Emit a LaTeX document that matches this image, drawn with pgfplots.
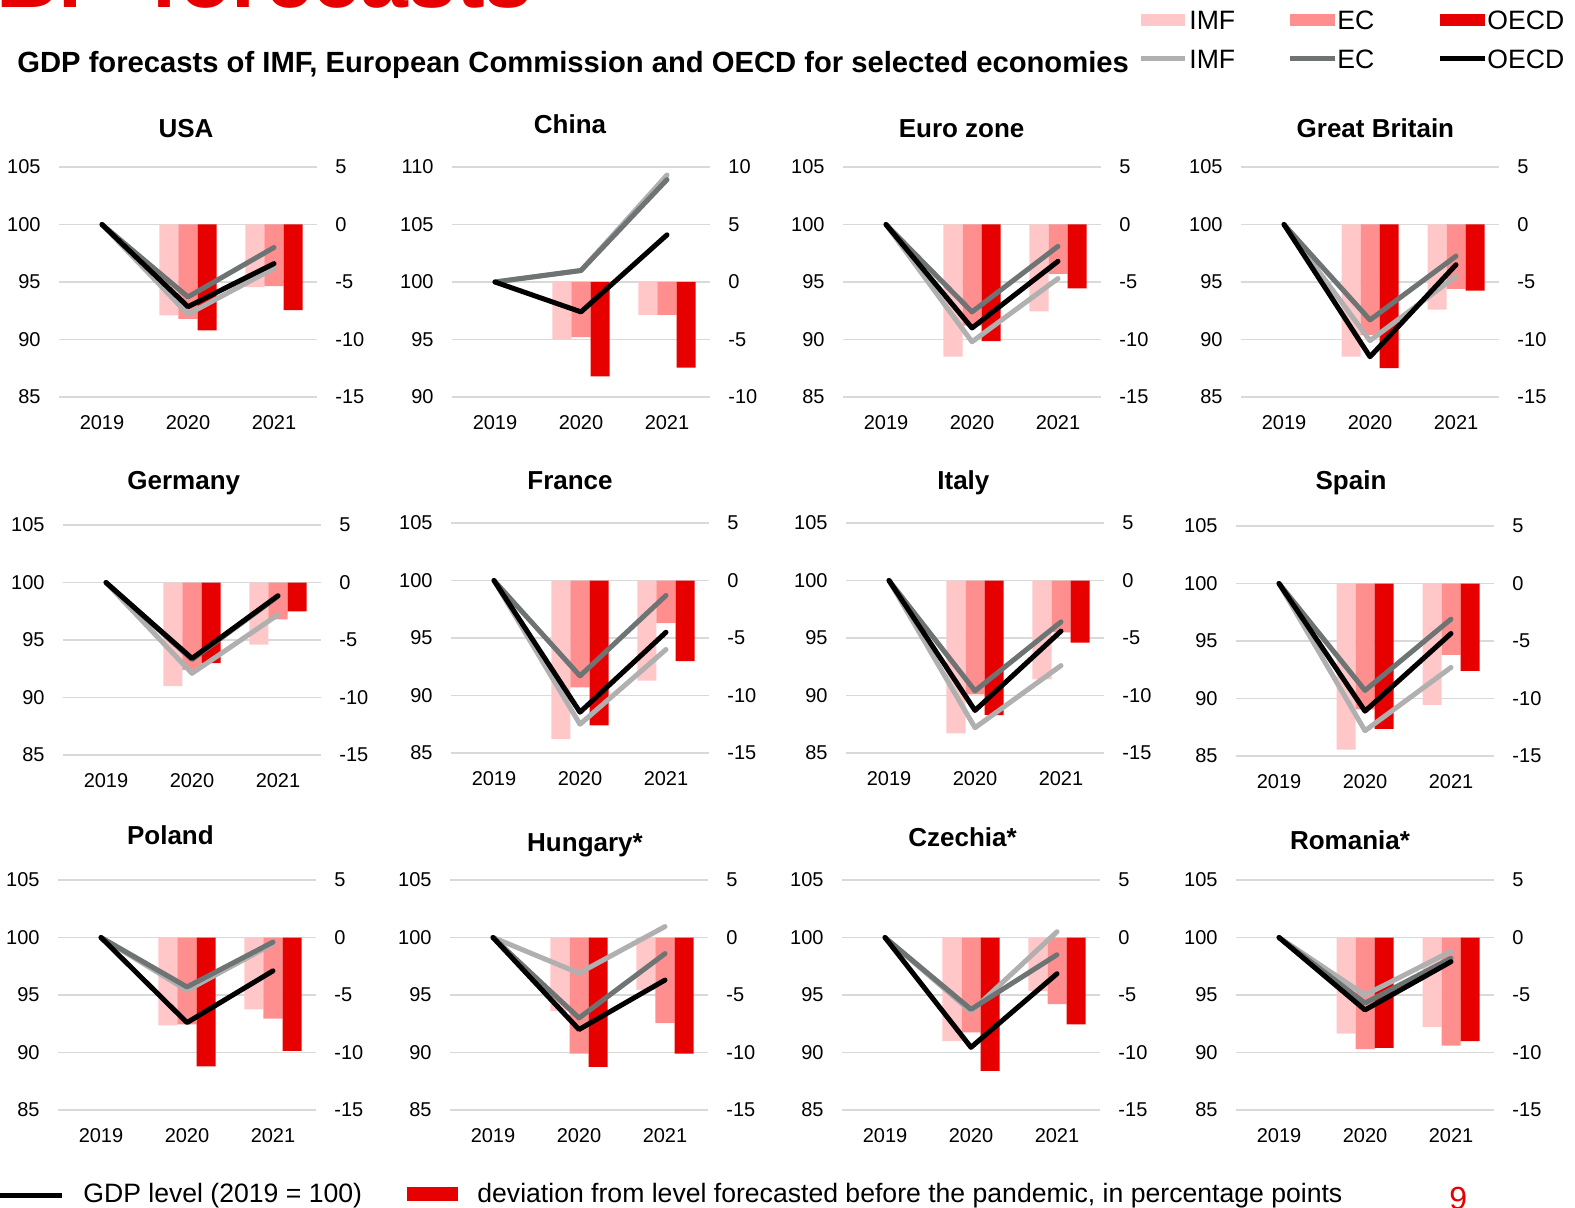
\documentclass[border=0pt]{standalone}
\usepackage{fontspec}
\setmainfont{Liberation Sans}
\usepackage{pgfplots}
\usepackage{pgfplotstable}
\pgfplotsset{compat=1.18}

\definecolor{imfbar}{HTML}{FFC7C7}
\definecolor{ecbar}{HTML}{FF8F8F}
\definecolor{oecdbar}{HTML}{E60000}
\definecolor{imfline}{HTML}{B0B0B0}
\definecolor{ecline}{HTML}{6E7474}
\definecolor{gridc}{HTML}{D9D9D9}
\definecolor{titlered}{HTML}{E60000}

% x: 0=2019, 1=2020, 2=2021 ; b = deviation bars (right axis), l = GDP level lines (left axis)
\pgfplotstableread{
x imfb ecb oecdb imfl ecl oecdl
0 0 0 0 100 100 100
1 -7.9 -8.2 -9.2 92.2 93.7 92.85
2 -5.45 -5.35 -7.45 96.2 98.0 96.6
}\usa
\pgfplotstableread{
x imfb ecb oecdb imfl ecl oecdl
0 0 0 0 100 100 100
1 -5.0 -4.8 -8.2 101.0 101.0 97.4
2 -2.85 -2.85 -7.45 109.3 108.9 104.1
}\china
\pgfplotstableread{
x imfb ecb oecdb imfl ecl oecdl
0 0 0 0 100 100 100
1 -11.5 -8.8 -10.15 89.8 92.4 91.0
2 -7.55 -4.3 -5.55 95.3 98.1 96.8
}\euro
\pgfplotstableread{
x imfb ecb oecdb imfl ecl oecdl
0 0 0 0 100 100 100
1 -11.5 -9.6 -12.5 89.9 91.7 88.5
2 -7.4 -5.6 -5.75 95.5 97.25 96.5
}\gb
\pgfplotstableread{
x imfb ecb oecdb imfl ecl oecdl
0 0 0 0 100 100 100
1 -9.0 -7.6 -7.0 92.1 93.3 93.4
2 -5.4 -3.2 -2.5 97.2 98.8 98.85
}\germany
\pgfplotstableread{
x imfb ecb oecdb imfl ecl oecdl
0 0 0 0 100 100 100
1 -13.8 -9.3 -12.6 87.5 91.7 88.55
2 -8.7 -3.7 -7.0 94.0 98.7 95.5
}\france
\pgfplotstableread{
x imfb ecb oecdb imfl ecl oecdl
0 0 0 0 100 100 100
1 -13.3 -9.9 -11.7 87.2 90.4 88.7
2 -8.6 -4.5 -5.4 92.6 96.4 95.6
}\italy
\pgfplotstableread{
x imfb ecb oecdb imfl ecl oecdl
0 0 0 0 100 100 100
1 -14.45 -10.95 -12.65 87.2 90.7 88.9
2 -10.55 -6.2 -7.6 92.7 96.9 95.65
}\spain
\pgfplotstableread{
x imfb ecb oecdb imfl ecl oecdl
0 0 0 0 100 100 100
1 -7.65 -7.55 -11.2 95.4 95.7 92.6
2 -6.25 -7.05 -9.85 99.45 99.6 97.1
}\poland
\pgfplotstableread{
x imfb ecb oecdb imfl ecl oecdl
0 0 0 0 100 100 100
1 -6.4 -10.1 -11.25 96.9 93.0 92.0
2 -4.55 -7.45 -10.1 100.95 98.6 96.3
}\hungary
\pgfplotstableread{
x imfb ecb oecdb imfl ecl oecdl
0 0 0 0 100 100 100
1 -9.0 -8.25 -11.6 93.55 93.75 90.45
2 -4.65 -5.8 -7.55 100.5 98.5 96.85
}\czechia
\pgfplotstableread{
x imfb ecb oecdb imfl ecl oecdl
0 0 0 0 100 100 100
1 -8.35 -9.7 -9.6 95.0 94.3 93.7
2 -7.8 -9.4 -9.0 98.8 98.2 97.9
}\romania

\pgfplotsset{
  panel/.style={
    scale only axis, width=129pt, height=115pt,
    anchor=north west,
    xmin=-0.5, xmax=2.5, xtick={0,1,2},
    ytick distance=5,
    axis line style={draw=none},
    major tick length=0pt,
    /pgf/number format/assume math mode=true,
    tick label style={font=\fontsize{10}{12}\selectfont},
    xticklabel style={yshift=-5.7pt},
    clip=false,
  },
  lineplot/.style={line width=2.5pt, line cap=round, line join=round},
}

\newcommand\panel[6]{%
  \begin{axis}[panel, at={(#1,#2)}, ymin=#4, ymax=#5,
    yticklabel pos=right, yticklabel style={xshift=5.7pt},
    ymajorgrids, grid style={gridc, line width=0.8pt},
    xticklabels={2019,2020,2021}]
    \addplot[ybar, bar width=0.221, bar shift=-0.221, fill=imfbar, draw=none,
      skip coords between index={0}{1}] table[x=x,y=imfb] {#3};
    \addplot[ybar, bar width=0.221, bar shift=0, fill=ecbar, draw=none,
      skip coords between index={0}{1}] table[x=x,y=ecb] {#3};
    \addplot[ybar, bar width=0.221, bar shift=0.221, fill=oecdbar, draw=none,
      skip coords between index={0}{1}] table[x=x,y=oecdb] {#3};
  \end{axis}
  \begin{axis}[panel, at={(#1,#2)}, ymin=#6, ymax=#6+20,
    yticklabel pos=left, yticklabel style={xshift=-5.7pt},
    xticklabels={}]
    \addplot[lineplot, imfline] table[x=x,y=imfl] {#3};
    \addplot[lineplot, ecline] table[x=x,y=ecl] {#3};
    \addplot[lineplot, black] table[x=x,y=oecdl] {#3};
  \end{axis}}

\begin{document}
\begin{tikzpicture}
% red heading, cut by the page top
\node[anchor=base west, inner sep=0pt, text=titlered, font=\bfseries\fontsize{43}{50}\selectfont] at (-2pt,599.5pt) {B.};
\node[anchor=base west, inner sep=0pt, text=titlered, font=\bfseries\fontsize{43}{50}\selectfont] at (75pt,599.5pt) {forecasts};
\node[anchor=base west, inner sep=0pt, font=\bfseries\fontsize{14.6}{17}\selectfont] at (8.5pt,567pt) {GDP forecasts of IMF, European Commission and OECD for selected economies};

% top legend
\fill[imfbar] (570.5pt,590.5pt) rectangle (592.5pt,596.5pt);
\fill[ecbar] (645pt,590.5pt) rectangle (667.5pt,596.5pt);
\fill[oecdbar] (720pt,590.5pt) rectangle (742.5pt,596.5pt);
\draw[imfline, line width=2.5pt] (570.5pt,574pt) -- (592.5pt,574pt);
\draw[ecline, line width=2.5pt] (645pt,574pt) -- (667.5pt,574pt);
\draw[black, line width=2.5pt] (720pt,574pt) -- (742.5pt,574pt);
\begin{scope}[every node/.style={anchor=base west, inner sep=0pt, font=\fontsize{13.3}{15}\selectfont}]
\node at (594.5pt,588.5pt) {IMF};
\node at (668.5pt,588.5pt) {EC};
\node at (743.5pt,588.5pt) {OECD};
\node at (594.5pt,569pt) {IMF};
\node at (668.5pt,569pt) {EC};
\node at (743.5pt,569pt) {OECD};
\end{scope}

% panels
\panel{29.5pt}{520pt}{\usa}{-15}{5}{85}
\panel{226pt}{520pt}{\china}{-10}{10}{90}
\panel{421.5pt}{520pt}{\euro}{-15}{5}{85}
\panel{620.5pt}{520pt}{\gb}{-15}{5}{85}
\panel{31.5pt}{341pt}{\germany}{-15}{5}{85}
\panel{225.5pt}{342pt}{\france}{-15}{5}{85}
\panel{423pt}{342pt}{\italy}{-15}{5}{85}
\panel{618pt}{340.5pt}{\spain}{-15}{5}{85}
\panel{29pt}{163.5pt}{\poland}{-15}{5}{85}
\panel{225pt}{163.5pt}{\hungary}{-15}{5}{85}
\panel{421pt}{163.5pt}{\czechia}{-15}{5}{85}
\panel{618pt}{163.5pt}{\romania}{-15}{5}{85}

% panel titles
\begin{scope}[every node/.style={anchor=base, inner sep=0pt, font=\bfseries\fontsize{13}{15}\selectfont}]
\node at (93pt,534.5pt) {USA};
\node at (285pt,536.5pt) {China};
\node at (480.8pt,534.5pt) {Euro zone};
\node at (687.7pt,534.5pt) {Great Britain};
\node at (91.9pt,358.5pt) {Germany};
\node at (285pt,358.5pt) {France};
\node at (481.7pt,358.5pt) {Italy};
\node at (675.5pt,358.5pt) {Spain};
\node at (85.2pt,181.5pt) {Poland};
\node at (292.5pt,178pt) {Hungary*};
\node at (481.3pt,180.5pt) {Czechia*};
\node at (675pt,179pt) {Romania*};
\end{scope}

% bottom legend
\draw[black, line width=2.5pt] (0pt,6pt) -- (31pt,6pt);
\node[anchor=base west, inner sep=0pt, font=\fontsize{13.3}{15}\selectfont] at (41.5pt,2.5pt) {GDP level (2019 = 100)};
\fill[oecdbar] (203.5pt,3pt) rectangle (229pt,10pt);
\node[anchor=base west, inner sep=0pt, font=\fontsize{13.3}{15}\selectfont] at (238.5pt,2.5pt) {deviation from level forecasted before the pandemic, in percentage points};
\node[anchor=base west, inner sep=0pt, text=titlered, font=\fontsize{16}{18}\selectfont] at (724.5pt,-1pt) {9};

\pgfresetboundingbox
\useasboundingbox (0,0) rectangle (787.5pt,603.5pt);
\end{tikzpicture}
\end{document}
